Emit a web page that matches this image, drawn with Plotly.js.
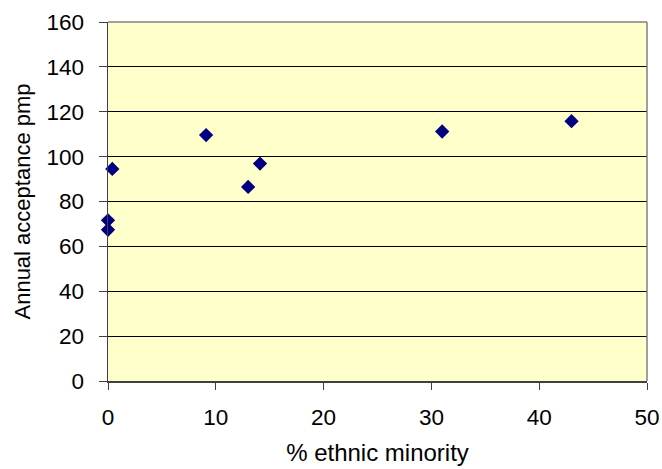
<!DOCTYPE html>
<html>
<head>
<meta charset="utf-8">
<script src="https://cdn.plot.ly/plotly-3.0.1.min.js"></script>
<style>html,body{margin:0;padding:0;background:#fff;}#chart{width:662px;height:469px;}</style>
</head>
<body>
<div id="chart"></div>
<script>
const ethnicMinority = [0, 0, 0.4, 9.1, 13.0, 14.1, 31.0, 43.0];
const acceptancePmp = [67.4, 71.6, 94.5, 109.6, 86.5, 96.9, 111.2, 115.8];
const xTicks = [0, 10, 20, 30, 40, 50];
const yTicks = [0, 20, 40, 60, 80, 100, 120, 140, 160];

const trace = {
  type: 'scatter',
  mode: 'markers',
  x: ethnicMinority,
  y: acceptancePmp,
  marker: {symbol: 'diamond', size: 11, color: '#000080', line: {width: 0}},
  cliponaxis: false,
  showlegend: false
};

const fam = 'Liberation Sans, Arial, sans-serif';
const tickFont = {family: fam, size: 22.5, color: '#000'};

const layout = {
  width: 662, height: 469,
  margin: {l: 108, r: 15, t: 22, b: 88},
  paper_bgcolor: '#ffffff',
  plot_bgcolor: '#FFFFCC',
  font: tickFont,
  xaxis: {
    range: [0, 50],
    tickvals: xTicks,
    ticktext: xTicks.map(String),
    tickfont: tickFont,
    showgrid: false,
    zeroline: false,
    showline: true, linecolor: '#404040', linewidth: 1.5,
    ticks: 'outside', ticklen: 7, tickcolor: '#404040',
    ticklabelstandoff: 8,
    title: {text: '% ethnic minority', font: {family: fam, size: 24, color: '#000'}, standoff: 15}
  },
  yaxis: {
    range: [0, 160],
    tickvals: yTicks,
    ticktext: yTicks.map(String),
    tickfont: tickFont,
    showgrid: true, gridcolor: '#000000', gridwidth: 1,
    zeroline: false,
    showline: true, linecolor: '#404040', linewidth: 1.5,
    ticks: 'outside', ticklen: 8, tickcolor: '#404040',
    ticklabelstandoff: 10,
    title: {text: 'Annual acceptance pmp', font: {family: fam, size: 22, color: '#000'}, standoff: 10}
  },
  shapes: [
    {type: 'line', xref: 'paper', yref: 'paper', x0: 0, x1: 1, y0: 1, y1: 1, line: {color: '#808080', width: 1.5}, layer: 'above'},
    {type: 'line', xref: 'paper', yref: 'paper', x0: 1, x1: 1, y0: 0, y1: 1, line: {color: '#808080', width: 1.5}, layer: 'above'}
  ]
};

Plotly.newPlot('chart', [trace], layout, {displayModeBar: false, staticPlot: true});
</script>
</body>
</html>
